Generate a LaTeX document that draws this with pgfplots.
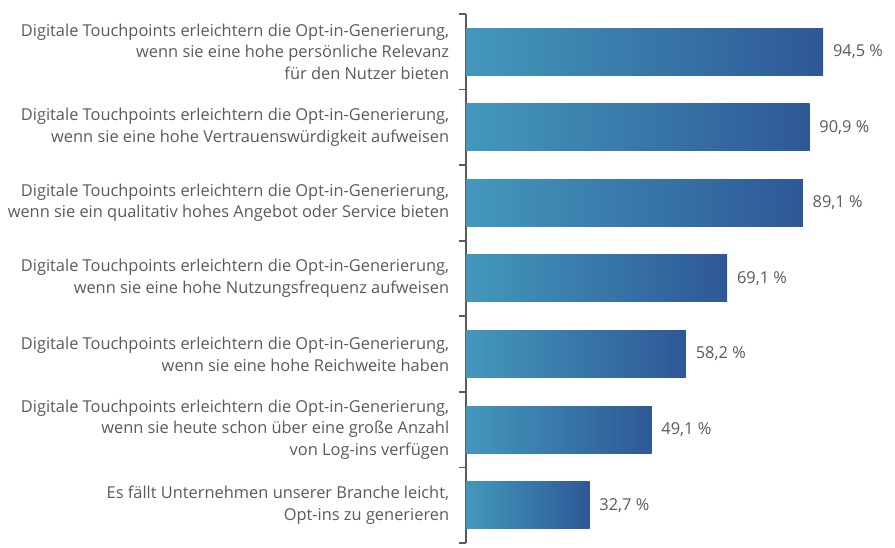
\documentclass[border=0pt]{standalone}
\usepackage{fontspec}
\setmainfont{Open Sans}
\usepackage{pgfplots}
\pgfplotsset{compat=1.18}
\definecolor{txt}{HTML}{5A5A5A}
\definecolor{barL}{HTML}{4398BC}
\definecolor{barR}{HTML}{2E5896}
\begin{document}
\fontsize{8.2pt}{10.8pt}\selectfont
\begin{tikzpicture}
\begin{axis}[
  scale only axis,
  width=189pt, height=264.5pt,
  xmin=0, xmax=100,
  ymin=-0.5, ymax=6.5,
  y dir=reverse,
  xbar, bar width=23.5pt, bar shift=0pt,
  axis x line=none,
  axis y line=left,
  axis line style={-, txt, line width=1pt},
  ytick={0,...,6},
  major tick length=0pt,
  minor ytick={-0.5,0.5,...,6.5},
  minor tick length=3.5pt,
  tick align=outside,
  minor tick style={txt, line width=0.8pt},
  yticklabels={
    {Digitale Touchpoints erleichtern die Opt-in-Generierung,\\wenn sie eine hohe persönliche Relevanz\\für den Nutzer bieten},
    {Digitale Touchpoints erleichtern die Opt-in-Generierung,\\wenn sie eine hohe Vertrauenswürdigkeit aufweisen},
    {Digitale Touchpoints erleichtern die Opt-in-Generierung,\\wenn sie ein qualitativ hohes Angebot oder Service bieten},
    {Digitale Touchpoints erleichtern die Opt-in-Generierung,\\wenn sie eine hohe Nutzungsfrequenz aufweisen},
    {Digitale Touchpoints erleichtern die Opt-in-Generierung,\\wenn sie eine hohe Reichweite haben},
    {Digitale Touchpoints erleichtern die Opt-in-Generierung,\\wenn sie heute schon über eine große Anzahl\\von Log-ins verfügen},
    {Es fällt Unternehmen unserer Branche leicht,\\Opt-ins zu generieren}},
  yticklabel style={align=right, text=txt, font=\fontsize{8.2pt}{10.8pt}\selectfont, xshift=-5.5pt},
  /pgf/number format/assume math mode=true,
  nodes near coords={\pgfmathprintnumber[fixed, fixed zerofill, precision=1, use comma]{\pgfplotspointmeta}~\%},
  nodes near coords style={text=txt, anchor=west, xshift=2pt, font=\fontsize{8.2pt}{10pt}\selectfont},
  every axis plot/.append style={draw=none, left color=barL, right color=barR},
  clip=false,
]
\addplot coordinates {(94.5,0)};
\addplot coordinates {(90.9,1)};
\addplot coordinates {(89.1,2)};
\addplot coordinates {(69.1,3)};
\addplot coordinates {(58.2,4)};
\addplot coordinates {(49.1,5)};
\addplot coordinates {(32.7,6)};
\coordinate (bl) at (axis cs:0,6.5);
\coordinate (tr) at (axis cs:100,-0.5);
\end{axis}
\pgfresetboundingbox
\path ([shift={(-233pt,-2.5pt)}]bl) rectangle ([shift={(25.5pt,7pt)}]tr);
\end{tikzpicture}
\end{document}
